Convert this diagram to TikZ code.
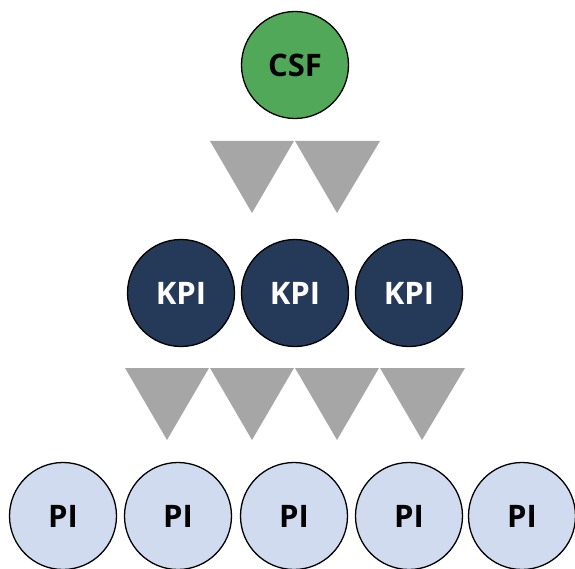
\documentclass[tikz,border=0pt]{standalone}
\usepackage{fontspec}
\setmainfont{Open Sans}
\definecolor{csfgreen}{RGB}{80,168,88}
\definecolor{kpinavy}{RGB}{36,58,88}
\definecolor{pilight}{RGB}{208,219,240}
\definecolor{trigray}{RGB}{166,166,166}
\tikzset{
  ball/.style={circle, draw=black, line width=1.3pt, minimum size=107pt, inner sep=0pt, font=\fontsize{31}{31}\selectfont\bfseries},
  csfball/.style={ball, fill=csfgreen, text=black},
  kpiball/.style={ball, fill=kpinavy, text=white},
  piball/.style={ball, fill=pilight, text=black},
  tri/.style={fill=trigray}
}
\begin{document}
\begin{tikzpicture}[x=1pt,y=-1pt]
\useasboundingbox (0,0) rectangle (575,569);
\node[csfball] (csf) at (295,65) {CSF};
% top triangles
\fill[tri] (210,141) -- (294,141) -- (252,213) -- cycle;
\fill[tri] (295,141) -- (380,141) -- (337,213) -- cycle;
\node[kpiball] (k1) at (181,293) {KPI};
\node[kpiball] (k2) at (295,293) {KPI};
\node[kpiball] (k3) at (409,293) {KPI};
% bottom triangles
\fill[tri] (125,368) -- (209,368) -- (167,440) -- cycle;
\fill[tri] (210,368) -- (294,368) -- (252,440) -- cycle;
\fill[tri] (295,368) -- (379,368) -- (337,440) -- cycle;
\fill[tri] (380,368) -- (465,368) -- (422,440) -- cycle;
\node[piball] (p1) at (63,516) {PI};
\node[piball] (p2) at (178,516) {PI};
\node[piball] (p3) at (294,516) {PI};
\node[piball] (p4) at (409,516) {PI};
\node[piball] (p5) at (522,516) {PI};
\end{tikzpicture}
\end{document}
